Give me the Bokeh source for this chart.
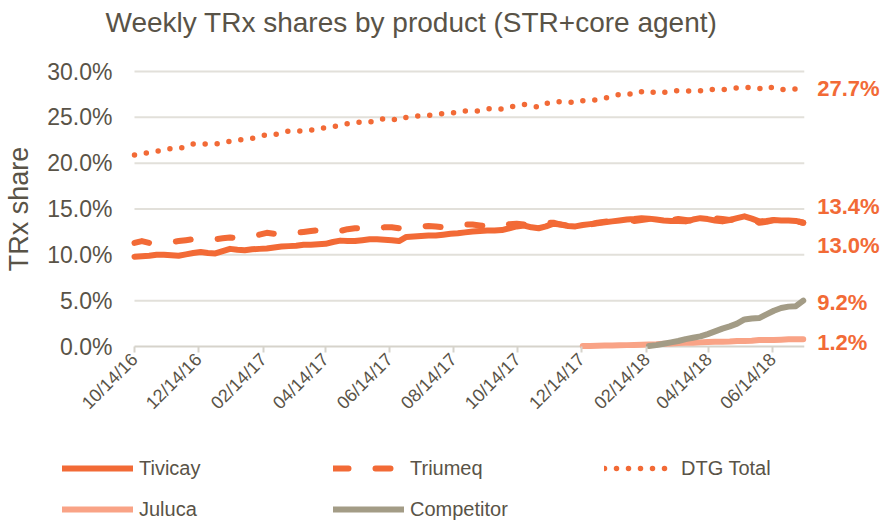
import pandas as pd
from bokeh.plotting import figure
from bokeh.models import (Legend, LegendItem, Label, FixedTicker, DatetimeTickFormatter,
                          PrintfTickFormatter, Range1d, ColumnDataSource)
from bokeh.embed import file_html
from bokeh.resources import INLINE

# ---------------- data ----------------
title_text = "Weekly TRx shares by product (STR+core agent)"
y_label = "TRx share"
first_week = "2016-10-14"
n_weeks = 92

dtg_total = [20.9, 21.0, 21.2, 21.3, 21.4, 21.6, 21.6, 21.8, 22.1, 22.1,
             22.1, 22.1, 22.2, 22.4, 22.5, 22.6, 22.7, 22.9, 23.1, 23.1,
             23.3, 23.5, 23.5, 23.5, 23.6, 23.7, 23.9, 24.0, 24.1, 24.3,
             24.4, 24.5, 24.5, 24.6, 24.9, 24.8, 24.7, 25.0, 25.1, 25.2,
             25.2, 25.3, 25.4, 25.5, 25.5, 25.7, 25.7, 25.7, 25.9, 26.0,
             25.9, 26.1, 26.3, 26.4, 26.3, 26.1, 26.5, 26.7, 26.7, 26.7,
             26.6, 26.8, 26.9, 26.9, 27.1, 27.3, 27.5, 27.6, 27.5, 27.8,
             27.9, 27.6, 27.7, 27.9, 27.9, 27.9, 27.8, 27.9, 28.1, 28.0,
             28.0, 28.1, 28.2, 28.3, 28.2, 28.1, 28.4, 28.2, 28.0, 28.1,
             28.1, 28.0]

tivicay = [9.8, 9.85, 9.9, 10.0, 10.0, 9.95, 9.9, 10.05, 10.2, 10.3,
           10.2, 10.15, 10.4, 10.65, 10.55, 10.5, 10.6, 10.65, 10.7, 10.8,
           10.9, 10.95, 11.0, 11.1, 11.1, 11.15, 11.2, 11.4, 11.55, 11.5,
           11.5, 11.6, 11.7, 11.7, 11.65, 11.6, 11.5, 11.95, 12.0, 12.05,
           12.1, 12.1, 12.2, 12.3, 12.35, 12.45, 12.55, 12.6, 12.65, 12.65,
           12.7, 12.9, 13.1, 13.2, 13.0, 12.9, 13.1, 13.4, 13.3, 13.15,
           13.1, 13.25, 13.35, 13.45, 13.55, 13.65, 13.75, 13.85, 13.9, 14.0,
           13.95, 13.85, 13.75, 13.7, 13.7, 13.65, 13.85, 14.0, 13.9, 13.75,
           13.65, 13.8, 14.0, 14.2, 13.95, 13.65, 13.7, 13.8, 13.75, 13.75,
           13.7, 13.5]

triumeq = [11.3, 11.5, 11.3, 11.2, 11.3, 11.4, 11.5, 11.6, 11.7, 11.6,
           11.6, 11.7, 11.8, 11.9, 11.8, 11.9, 12.0, 12.2, 12.4, 12.3,
           12.2, 12.3, 12.4, 12.5, 12.6, 12.7, 12.6, 12.5, 12.6, 12.8,
           12.9, 12.9, 12.8, 12.9, 13.0, 13.0, 12.9, 12.9, 13.0, 13.1,
           13.15, 13.1, 13.0, 13.1, 13.2, 13.3, 13.3, 13.2, 13.1, 13.0,
           13.2, 13.35, 13.4, 13.3, 13.2, 13.4, 13.5, 13.5, 13.3, 13.2,
           13.3, 13.4, 13.3, 13.5, 13.6, 13.7, 13.8, 13.8, 13.7, 13.8,
           13.9, 13.8, 13.7, 13.8, 13.9, 13.8, 13.7, 13.8, 13.9, 14.0,
           13.9, 13.8, 13.9, 14.0, 13.9, 13.5, 13.6, 13.8, 13.9, 13.8,
           13.7, 13.5]

juluca_first_week = 61
juluca = [0.05, 0.06, 0.08, 0.1, 0.11, 0.13, 0.15, 0.17, 0.2, 0.22,
          0.25, 0.3, 0.33, 0.38, 0.4, 0.42, 0.45, 0.5, 0.53, 0.52,
          0.55, 0.6, 0.6, 0.62, 0.7, 0.72, 0.7, 0.74, 0.78, 0.8, 0.8]

competitor_first_week = 70
competitor = [0.05, 0.15, 0.3, 0.45, 0.6, 0.8, 0.95, 1.1, 1.35, 1.65,
              1.95, 2.2, 2.5, 2.95, 3.05, 3.1, 3.5, 3.9, 4.2, 4.35,
              4.4, 5.0]

series_names = ["Tivicay", "Triumeq", "DTG Total", "Juluca", "Competitor"]
end_labels = ["13.0%", "13.4%", "27.7%", "1.2%", "9.2%"]

x_tick_dates = ["2016-10-14", "2016-12-14", "2017-02-14", "2017-04-14", "2017-06-14",
                "2017-08-14", "2017-10-14", "2017-12-14", "2018-02-14", "2018-04-14",
                "2018-06-14"]
y_ticks = [0, 5, 10, 15, 20, 25, 30]

# ---------------- styles / layout ----------------
ORANGE = "#F26A36"
SALMON = "#F9A386"
KHAKI = "#A39C86"
TEXT = "#595347"
GRID = "#E2E0DA"
AXIS = "#D6D3CB"
FONT = "Liberation Sans"

W, H = 886, 521
PX_PER_DAY = 1.0498          # horizontal scale
PX_PER_UNIT = 275 / 30.0     # vertical scale (px per percentage point)
ORIGIN_X, ORIGIN_Y = 134, 346  # pixel position of first week / 0 %
DAY_MS = 86400000.0

weeks = pd.date_range(first_week, periods=n_weeks, freq="7D")

def ms(ts):
    return pd.Timestamp(ts).value / 1e6

x0 = ms(first_week)
x_start = x0 - ORIGIN_X / PX_PER_DAY * DAY_MS
x_end = x0 + (W - ORIGIN_X) / PX_PER_DAY * DAY_MS
y_start = -(H - ORIGIN_Y) / PX_PER_UNIT
y_end = ORIGIN_Y / PX_PER_UNIT

p = figure(width=W, height=H, x_axis_type="datetime", title=None,
           output_backend="svg", toolbar_location=None,
           x_range=Range1d(x_start, x_end), y_range=Range1d(y_start, y_end))
p.min_border = 0
p.min_border_left = 0
p.min_border_right = 0
p.min_border_top = 0
p.min_border_bottom = 0
p.outline_line_color = None
p.background_fill_color = "white"
p.border_fill_color = "white"
p.xgrid.grid_line_color = None
p.ygrid.grid_line_color = None

# grid lines (from the y ticks) across the data span
grid_x0 = ms(weeks[0])
grid_x1 = ms(weeks[-1]) + DAY_MS
p.segment(x0=[grid_x0] * (len(y_ticks) - 1), x1=[grid_x1] * (len(y_ticks) - 1),
          y0=y_ticks[1:], y1=y_ticks[1:], line_color=GRID, line_width=2)
p.segment(x0=[grid_x0], x1=[grid_x1], y0=y_ticks[:1], y1=y_ticks[:1],
          line_color=AXIS, line_width=2)

src_main = ColumnDataSource(dict(x=weeks, tivicay=tivicay, triumeq=triumeq, dtg=dtg_total))
src_jul = ColumnDataSource(dict(x=weeks[juluca_first_week:juluca_first_week + len(juluca)], y=juluca))
src_comp = ColumnDataSource(dict(x=weeks[competitor_first_week:competitor_first_week + len(competitor)], y=competitor))

r_dtg = p.line("x", "dtg", source=src_main, line_color=ORANGE, line_width=5.5,
               line_dash="0 12", line_cap="round")
r_tri = p.line("x", "triumeq", source=src_main, line_color=ORANGE, line_width=6,
               line_dash="15 27", line_cap="round", line_join="round")
r_tiv = p.line("x", "tivicay", source=src_main, line_color=ORANGE, line_width=6,
               line_cap="round", line_join="round")
r_jul = p.line("x", "y", source=src_jul, line_color=SALMON, line_width=6,
               line_cap="round", line_join="round")
r_comp = p.line("x", "y", source=src_comp, line_color=KHAKI, line_width=6,
                line_cap="round", line_join="round")

# x axis, placed at 0 %
xa = p.xaxis[0]
xa.fixed_location = 0
xa.bounds = (grid_x0, grid_x1)
xa.ticker = FixedTicker(ticks=[ms(d) for d in x_tick_dates])
fmt = "%m/%d/%y"
xa.formatter = DatetimeTickFormatter(days=fmt, months=fmt, years=fmt, hours=fmt,
                                     hourmin=fmt, minutes=fmt, minsec=fmt,
                                     seconds=fmt, milliseconds=fmt, microseconds=fmt)
xa.major_label_orientation = 0.785398
xa.major_label_text_font = FONT
xa.major_label_text_font_size = "18px"
xa.major_label_text_color = TEXT
xa.axis_line_color = None
xa.major_tick_line_color = AXIS
xa.major_tick_line_width = 2
xa.major_tick_out = 6
xa.major_tick_in = 0
xa.minor_tick_line_color = None
xa.major_label_standoff = 4

# y axis, placed at the first week
ya = p.yaxis[0]
ya.fixed_location = x0
ya.bounds = (y_ticks[0], y_ticks[-1])
ya.ticker = FixedTicker(ticks=y_ticks)
ya.formatter = PrintfTickFormatter(format="%.1f%%")
ya.axis_line_color = None
ya.major_tick_line_color = None
ya.minor_tick_line_color = None
ya.major_tick_out = 0
ya.major_tick_in = 0
ya.major_label_standoff = 22
ya.major_label_text_font = FONT
ya.major_label_text_font_size = "23px"
ya.major_label_text_color = TEXT
ya.axis_label = y_label
ya.axis_label_text_font = FONT
ya.axis_label_text_font_size = "27px"
ya.axis_label_text_font_style = "normal"
ya.axis_label_text_color = TEXT
ya.axis_label_standoff = 10

# title
p.add_layout(Label(x=105, y=H - 22, x_units="screen", y_units="screen", text=title_text,
                   text_baseline="middle", text_align="left", text_font=FONT,
                   text_font_size="28px", text_color=TEXT))

# end labels
last_x = ms(weeks[-1])
ends = [tivicay[-1], triumeq[-1], dtg_total[-1], juluca[-1], competitor[-1]]
y_offsets = [-23, 16, 1, -3, -2]
for txt, yv, yo in zip(end_labels, ends, y_offsets):
    p.add_layout(Label(x=last_x, y=yv, x_offset=14, y_offset=yo, text=txt,
                       text_baseline="middle", text_align="left",
                       text_font=FONT, text_font_size="22px", text_font_style="bold",
                       text_color=ORANGE))

# legend
renderers = [r_tiv, r_tri, r_dtg, r_jul, r_comp]
items = [LegendItem(label=n, renderers=[r]) for n, r in zip(series_names, renderers)]
legend = Legend(items=items, location=(62, 0), orientation="horizontal", ncols=3,
                glyph_width=71, glyph_height=24, label_height=24, label_width=177,
                label_standoff=6, spacing=17, padding=0, margin=0,
                border_line_color=None, background_fill_alpha=0,
                label_text_font=FONT, label_text_font_size="20px", label_text_color=TEXT)
p.add_layout(legend, "center")

open("out.html", "w").write(file_html(p, INLINE))
